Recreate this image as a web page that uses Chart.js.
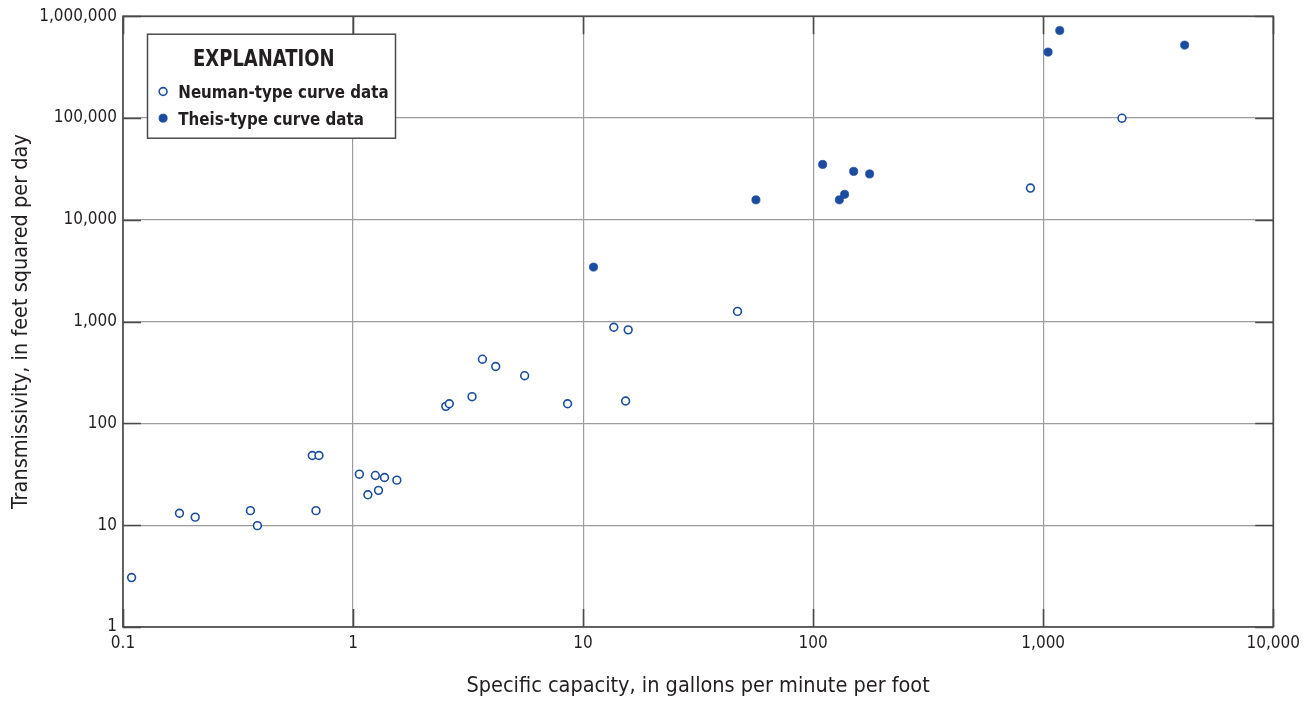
<!DOCTYPE html>
<html>
<head>
<meta charset="utf-8">
<title>Transmissivity vs specific capacity</title>
<script src="https://cdn.jsdelivr.net/npm/chart.js@4.4.1/dist/chart.umd.min.js"></script>
<style>
  html, body { margin: 0; padding: 0; background: #ffffff; }
  #wrap { width: 1306px; height: 702px; }
</style>
</head>
<body>
<div id="wrap"><canvas id="chart" width="1306" height="702"></canvas></div>
<script>
// Specific capacity (gal/min/ft) and transmissivity (ft²/d) by analysis method
const neumanX = [0.109, 0.176, 0.206, 0.358, 0.384, 0.665, 0.711, 0.69, 1.065, 1.25, 1.37, 1.55, 1.16, 1.29,
                 2.53, 2.62, 3.29, 3.65, 4.17, 5.57, 8.56, 13.6, 15.7, 15.3, 46.9, 880, 2200];
const neumanY = [3.06, 13.1, 12.0, 13.9, 9.9, 48.4, 48.4, 13.9, 31.7, 30.8, 29.4, 27.7, 19.9, 22.0,
                 147, 156, 183, 427, 362, 294, 156, 880, 830, 166, 1260, 20500, 99500];
const theisX = [11.1, 56.4, 110, 150, 176, 137, 130, 1180, 1050, 4120];
const theisY = [3430, 15700, 35000, 29900, 28200, 17800, 15700, 724000, 444000, 520000];

const seriesNames = ['Neuman-type curve data', 'Theis-type curve data'];
const legendTitle = 'EXPLANATION';

const xTickValues = [0.1, 1, 10, 100, 1000, 10000];
const xTickLabels = ['0.1', '1', '10', '100', '1,000', '10,000'];
const yTickValues = [1, 10, 100, 1000, 10000, 100000, 1000000];
const yTickLabels = ['1', '10', '100', '1,000', '10,000', '100,000', '1,000,000'];

const xTitle = 'Specific capacity, in gallons per minute per foot';
const yTitle = 'Transmissivity, in feet squared per day';

// styling
const FONT = '"Liberation Sans Narrow", "Arial Narrow", "DejaVu Sans Condensed", "Roboto Condensed", Roboto, sans-serif';
const INK = '#231f20';
const BLUE = '#1b4c9f';
const GRID = '#9c9c9c';
const FRAME = '#4a4a4a';

const toPoints = (xs, ys) => xs.map((x, i) => ({ x: x, y: ys[i] }));

// frame and inward tick marks on all four sides
const frameTicks = {
  id: 'frameTicks',
  beforeDatasetsDraw(chart) {
    const { ctx, chartArea: a, scales } = chart;
    const len = 18;
    ctx.save();
    ctx.strokeStyle = FRAME;
    ctx.lineWidth = 1.6;
    ctx.beginPath();
    xTickValues.forEach(v => {
      const px = Math.round(scales.x.getPixelForValue(v)) + 0.5;
      ctx.moveTo(px, a.bottom); ctx.lineTo(px, a.bottom - len);
      ctx.moveTo(px, a.top); ctx.lineTo(px, a.top + len);
    });
    yTickValues.forEach(v => {
      const py = Math.round(scales.y.getPixelForValue(v)) + 0.5;
      ctx.moveTo(a.left, py); ctx.lineTo(a.left + len, py);
      ctx.moveTo(a.right, py); ctx.lineTo(a.right - len, py);
    });
    ctx.stroke();
    ctx.strokeRect(a.left, a.top, a.right - a.left, a.bottom - a.top);
    ctx.restore();
  }
};

// text drawn with a slight horizontal squeeze for a condensed look
function condensedText(ctx, text, x, y, sx) {
  ctx.save();
  ctx.translate(x, y);
  ctx.scale(sx, 1);
  ctx.fillText(text, 0, 0);
  ctx.restore();
}

// boxed explanation in the upper-left corner of the plot
const explanationBox = {
  id: 'explanationBox',
  afterDraw(chart) {
    const { ctx, chartArea: a } = chart;
    const bx = a.left + 24.5, by = a.top + 18, bw = 248, bh = 104;
    ctx.save();
    ctx.fillStyle = '#ffffff';
    ctx.fillRect(bx, by, bw, bh);
    ctx.strokeStyle = FRAME;
    ctx.lineWidth = 1.5;
    ctx.strokeRect(bx, by, bw, bh);

    ctx.fillStyle = INK;
    ctx.textBaseline = 'alphabetic';
    ctx.textAlign = 'center';
    ctx.font = 'bold 23px ' + FONT;
    condensedText(ctx, legendTitle, bx + 116.3, by + 31.3, 0.87);

    ctx.textAlign = 'left';
    ctx.font = 'bold 18.5px ' + FONT;
    chart.data.datasets.forEach((ds, i) => {
      const cy = by + 57.3 + i * 26.7;
      ctx.beginPath();
      ctx.arc(bx + 15.6, cy, ds.pointRadius, 0, Math.PI * 2);
      ctx.fillStyle = ds.backgroundColor;
      ctx.fill();
      ctx.lineWidth = ds.borderWidth;
      ctx.strokeStyle = ds.borderColor;
      ctx.stroke();
      ctx.fillStyle = INK;
      condensedText(ctx, ds.label, bx + 30.8, cy + 6.6, 0.905);
    });
    ctx.restore();
  }
};

const decadeTicks = values => scale => {
  scale.ticks = values.map(v => ({ value: v, major: true }));
};

new Chart(document.getElementById('chart'), {
  type: 'scatter',
  data: {
    datasets: [
      {
        label: seriesNames[0],
        data: toPoints(neumanX, neumanY),
        pointStyle: 'circle',
        pointRadius: 3.9,
        borderWidth: 1.6,
        borderColor: BLUE,
        backgroundColor: '#ffffff'
      },
      {
        label: seriesNames[1],
        data: toPoints(theisX, theisY),
        pointStyle: 'circle',
        pointRadius: 4.1,
        borderWidth: 0.7,
        borderColor: BLUE,
        backgroundColor: BLUE
      }
    ]
  },
  options: {
    responsive: false,
    devicePixelRatio: 1,
    animation: false,
    events: [],
    layout: { padding: { top: 15, right: 32, bottom: 0, left: 0 } },
    plugins: {
      legend: { display: false },
      tooltip: { enabled: false }
    },
    scales: {
      x: {
        type: 'logarithmic',
        min: 0.1,
        max: 10000,
        afterBuildTicks: decadeTicks(xTickValues),
        afterFit: s => { s.height = 75; },
        border: { display: false },
        grid: { color: GRID, lineWidth: 1.2, drawTicks: false },
        ticks: {
          autoSkip: false,
          maxRotation: 0,
          padding: 6,
          color: INK,
          font: { family: FONT, size: 17 },
          callback: (v, i) => xTickLabels[i]
        },
        title: {
          display: true,
          text: xTitle,
          color: INK,
          font: { family: FONT, size: 21.5 },
          padding: { top: 0, bottom: 3 }
        }
      },
      y: {
        type: 'logarithmic',
        min: 1,
        max: 1000000,
        afterBuildTicks: decadeTicks(yTickValues),
        afterFit: s => { s.width = 123; },
        border: { display: false },
        grid: { color: GRID, lineWidth: 1.2, drawTicks: false },
        ticks: {
          autoSkip: false,
          padding: 6,
          color: INK,
          font: { family: FONT, size: 17 },
          callback: (v, i) => yTickLabels[i]
        },
        title: {
          display: true,
          text: yTitle,
          color: INK,
          font: { family: FONT, size: 21.5 },
          padding: { top: 9, bottom: 0 }
        }
      }
    }
  },
  plugins: [frameTicks, explanationBox]
});
</script>
</body>
</html>
